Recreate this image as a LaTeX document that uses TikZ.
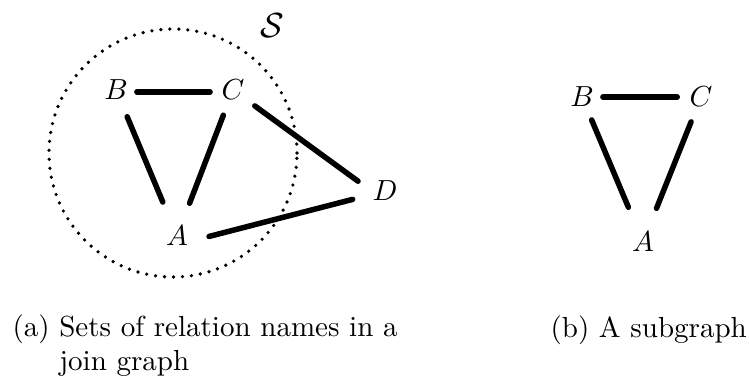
\documentclass[tikz,border=0pt]{standalone}
\usetikzlibrary{calc}
\begin{document}
\begin{tikzpicture}[x=0.3445pt,y=-0.3445pt,
  lbl/.style={inner sep=0pt},
  edge/.style={line width=1.9pt,line cap=round},
  setline/.style={line width=1.25pt,line cap=round,dash pattern=on 0pt off 3.1pt},
  captext/.style={anchor=base west,inner sep=0pt,font=\normalsize}]
\useasboundingbox (0,0) rectangle (749,376);
% (a) join graph
\node[setline,draw,circle,minimum size=85.44pt,inner sep=0pt] (setS) at (173,153) {};
\node[lbl] (S) at (272,26) {\large$\mathcal{S}$};
\node[lbl] (B) at (116,90) {$B$};
\node[lbl] (C) at (233,90) {$C$};
\node[lbl] (A) at (177,236) {$A$};
\node[lbl] (D) at (385,191) {$D$};
\draw[edge,shorten <=7.2pt,shorten >=7.9pt] ([yshift=-0.6pt]B.center) -- ([yshift=-0.6pt]C.center);
\draw[edge,shorten <=10pt,shorten >=12.7pt] (B.center) -- (A.center);
\draw[edge,shorten <=9.3pt,shorten >=12.1pt] (C.center) -- (A.center);
\draw[edge,shorten <=9.3pt,shorten >=11.5pt] (C.center) -- ([yshift=-3.4pt]D.center);
\draw[edge,shorten <=11.4pt,shorten >=11.5pt] ([yshift=-3pt]A.center) -- (D.center);
% (b) subgraph
\node[lbl] (B2) at (582,97) {$B$};
\node[lbl] (C2) at (701,97) {$C$};
\node[lbl] (A2) at (643,242) {$A$};
\draw[edge,shorten <=7.2pt,shorten >=8.2pt] (B2.center) -- (C2.center);
\draw[edge,shorten <=8.6pt,shorten >=13pt] (B2.center) -- (A2.center);
\draw[edge,shorten <=9.2pt,shorten >=12.5pt] (C2.center) -- (A2.center);
% captions
\node[captext] (capa) at (12,336) {\begin{tabular}[t]{@{}l@{\ }l@{}}(a)&Sets of relation names in a\\&join graph\end{tabular}};
\node[captext] (capb) at (550,337) {(b) A subgraph};
\end{tikzpicture}
\end{document}
